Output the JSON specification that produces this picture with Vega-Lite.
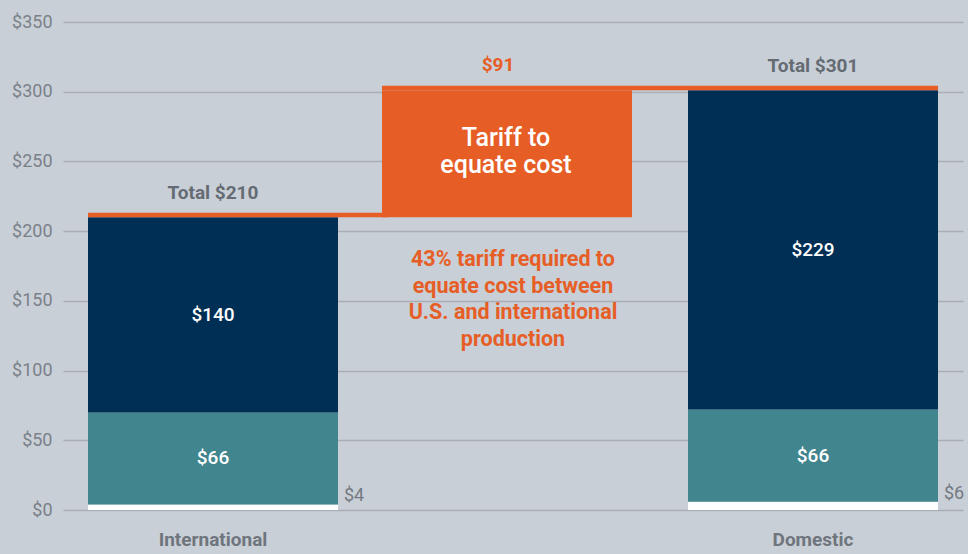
{
  "$schema": "https://vega.github.io/schema/vega-lite/v6.json",
  "width": 900,
  "height": 488,
  "autosize": "none",
  "padding": {"left": 63, "top": 22, "right": 5, "bottom": 44},
  "background": "#c9cfd7",
  "config": {
    "view": {"stroke": null},
    "font": "Roboto",
    "axisY": {"domain": false, "ticks": false, "grid": true, "gridColor": "#a9aeb5", "gridWidth": 1.5, "labelFont": "Roboto", "labelFontSize": 18, "labelColor": "#7b8189", "labelPadding": 11},
    "axisX": {"domain": false, "ticks": false, "grid": false, "labelFont": "Roboto", "labelFontSize": 19, "labelFontWeight": "bold", "labelColor": "#6f757d", "labelPadding": 20, "labelAngle": 0}
  },
  "data": {
    "values": [
      {"cat": "International", "seg": "Other", "ord": 1, "value": 4, "label": "$4"},
      {"cat": "International", "seg": "Labor", "ord": 2, "value": 66, "label": "$66"},
      {"cat": "International", "seg": "Material", "ord": 3, "value": 140, "label": "$140"},
      {"cat": "Domestic", "seg": "Other", "ord": 1, "value": 6, "label": "$6"},
      {"cat": "Domestic", "seg": "Labor", "ord": 2, "value": 66, "label": "$66"},
      {"cat": "Domestic", "seg": "Material", "ord": 3, "value": 229, "label": "$229"}
    ]
  },
  "layer": [
    {
      "mark": {"type": "bar"},
      "encoding": {
        "x": {"field": "cat", "type": "nominal", "title": null,
              "scale": {"domain": ["International", "Tariff", "Domestic"], "paddingInner": 0.16667, "paddingOuter": 0.08333},
              "axis": {"labelExpr": "datum.value == 'Tariff' ? '' : datum.value"}},
        "y": {"field": "value", "type": "quantitative", "stack": "zero", "title": null,
              "scale": {"domain": [0, 350], "nice": false},
              "axis": {"values": [0, 50, 100, 150, 200, 250, 300, 350], "labelExpr": "'$' + datum.value"}},
        "color": {"field": "seg", "type": "nominal", "legend": null,
                  "scale": {"domain": ["Other", "Labor", "Material"], "range": ["#ffffff", "#41868f", "#002f56"]}},
        "order": {"field": "ord", "type": "quantitative"}
      }
    },
    {
      "mark": {"type": "text", "color": "#ffffff", "fontSize": 19, "fontWeight": 500, "baseline": "middle", "font": "Roboto"},
      "encoding": {
        "x": {"field": "cat", "type": "nominal", "title": null},
        "y": {"field": "value", "type": "quantitative", "stack": "zero", "bandPosition": 0.5, "title": null},
        "detail": {"field": "seg", "type": "nominal"},
        "order": {"field": "ord", "type": "quantitative"},
        "text": {"condition": {"test": "datum.seg === 'Other'", "value": ""}, "field": "label"}
      }
    },
    {
      "transform": [{"filter": "datum.seg === 'Other'"}],
      "mark": {"type": "text", "color": "#737982", "fontSize": 18, "align": "left", "baseline": "alphabetic", "dx": 6, "dy": -3, "font": "Roboto"},
      "encoding": {
        "x": {"field": "cat", "type": "nominal", "bandPosition": 1, "title": null},
        "y": {"field": "value", "type": "quantitative", "stack": null, "title": null},
        "text": {"field": "label"}
      }
    },
    {
      "data": {"values": [{"from": "International", "to": "Tariff", "level": 210}]},
      "mark": {"type": "rule", "color": "#e65e26", "strokeWidth": 4.5, "yOffset": -2.2},
      "encoding": {
        "x": {"field": "from", "type": "nominal", "bandPosition": 0, "title": null},
        "x2": {"field": "to", "bandPosition": 0},
        "y": {"field": "level", "type": "quantitative", "title": null}
      }
    },
    {
      "data": {"values": [{"from": "Tariff", "to": "Domestic", "level": 301}]},
      "mark": {"type": "rule", "color": "#e65e26", "strokeWidth": 4.5, "yOffset": -2.2},
      "encoding": {
        "x": {"field": "from", "type": "nominal", "bandPosition": -0.024, "title": null},
        "x2": {"field": "to", "bandPosition": 1},
        "y": {"field": "level", "type": "quantitative", "title": null}
      }
    },
    {
      "data": {"values": [{"cat": "Tariff", "low": 210, "high": 301}]},
      "mark": {"type": "bar", "color": "#e65e26", "xOffset": -6},
      "encoding": {
        "x": {"field": "cat", "type": "nominal", "title": null},
        "y": {"field": "low", "type": "quantitative", "title": null},
        "y2": {"field": "high"}
      }
    },
    {
      "data": {"values": [{"cat": "International", "total": 210, "label": "Total $210"}, {"cat": "Domestic", "total": 301, "label": "Total $301"}]},
      "mark": {"type": "text", "color": "#646b73", "fontSize": 19, "fontWeight": "bold", "baseline": "alphabetic", "dy": -18, "font": "Roboto"},
      "encoding": {
        "x": {"field": "cat", "type": "nominal", "title": null},
        "y": {"field": "total", "type": "quantitative", "title": null},
        "text": {"field": "label"}
      }
    },
    {
      "data": {"values": [{"cat": "Tariff", "total": 301, "label": "$91"}]},
      "mark": {"type": "text", "color": "#e65e26", "fontSize": 19, "fontWeight": "bold", "baseline": "alphabetic", "dy": -19, "dx": -15, "font": "Roboto"},
      "encoding": {
        "x": {"field": "cat", "type": "nominal", "title": null},
        "y": {"field": "total", "type": "quantitative", "title": null},
        "text": {"field": "label"}
      }
    },
    {
      "data": {"values": [{"cat": "Tariff", "label": ["Tariff to", "equate cost"]}]},
      "mark": {"type": "text", "color": "#ffffff", "fontSize": 25, "fontWeight": 500, "baseline": "middle", "lineHeight": 27, "dx": -7, "font": "Roboto"},
      "encoding": {
        "x": {"field": "cat", "type": "nominal", "title": null},
        "y": {"datum": 266.5, "type": "quantitative"},
        "text": {"field": "label"}
      }
    },
    {
      "data": {"values": [{"cat": "Tariff", "label": ["43% tariff required to", "equate cost between", "U.S. and international", "production"]}]},
      "mark": {"type": "text", "color": "#e65e26", "fontSize": 21.5, "fontWeight": "bold", "baseline": "middle", "lineHeight": 26.5, "font": "Roboto"},
      "encoding": {
        "x": {"field": "cat", "type": "nominal", "title": null},
        "y": {"datum": 179, "type": "quantitative"},
        "text": {"field": "label"}
      }
    }
  ]
}
